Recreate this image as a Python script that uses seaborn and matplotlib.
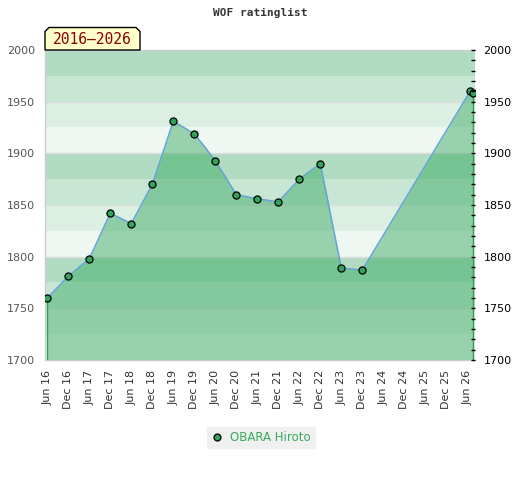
import matplotlib
matplotlib.use("Agg")
import matplotlib.pyplot as plt
from matplotlib.patches import Polygon
from matplotlib.lines import Line2D
from matplotlib.ticker import MultipleLocator
import seaborn as sns
import pandas as pd

# ---- data ----
tick_labels = ["Jun 16", "Dec 16", "Jun 17", "Dec 17", "Jun 18", "Dec 18", "Jun 19",
               "Dec 19", "Jun 20", "Dec 20", "Jun 21", "Dec 21", "Jun 22", "Dec 22",
               "Jun 23", "Dec 23", "Jun 24", "Dec 24", "Jun 25", "Dec 25", "Jun 26"]
tick_months = [0, 6, 12, 18, 24, 30, 36, 42, 48, 54, 60, 66, 72, 78, 84, 90,
               96, 102, 108, 114, 120]
months = [0, 6, 12, 18, 24, 30, 36, 42, 48, 54, 60, 66, 72, 78, 84, 90, 120.8, 121.7]
ratings = [1760, 1781, 1798, 1842, 1832, 1870, 1931, 1919, 1893, 1860, 1856, 1853,
           1875, 1890, 1789, 1787, 1960, 1958]
player = "OBARA Hiroto"
title = "WOF ratinglist"
period = "2016\u20132026"

df = pd.DataFrame({"month": months, "rating": ratings})

W, H = 520, 480
fig = plt.figure(figsize=(W / 100, H / 100), dpi=100)
L, R, T, B = 45, 475, 50, 360
ax = fig.add_axes([L / W, 1 - B / H, (R - L) / W, (B - T) / H])

ymin, ymax = 1700, 2000
band_cols = ["#b2dcc1", "#c8e6d4", "#dcefe3", "#eef7f1"]
i = 0
for top in range(ymax, ymin, -25):
    ax.axhspan(top - 25, top, color=band_cols[i % 4], lw=0, zorder=0)
    i += 1
for g in range(ymin, ymax + 1, 50):
    ax.axhline(g, color="#dddddd", lw=1, zorder=0.5)

ax.fill_between(df["month"], df["rating"], ymin, color="#31a75b", alpha=0.45,
                lw=0, zorder=1)
ax.vlines([df["month"].iloc[0], df["month"].iloc[-1]], ymin,
          [df["rating"].iloc[0], df["rating"].iloc[-1]], color="#2e9e50", lw=1.0, zorder=1.5)

sns.lineplot(data=df, x="month", y="rating", ax=ax, color="#62a4d8", lw=1.1,
             sort=False, zorder=2, legend=False)
sns.scatterplot(data=df, x="month", y="rating", ax=ax, color="#33a35c",
                edgecolor="black", linewidth=0.9, s=26, zorder=3, legend=False)

ax.set_xlim(-0.66, 122.2)
ax.set_ylim(ymin, ymax)
ax.set_xticks(tick_months)
ax.set_xticklabels(tick_labels, rotation=90, fontsize=8, color="#333333",
                   family="DejaVu Sans")
ax.yaxis.set_major_locator(MultipleLocator(50))
ax.tick_params(axis="y", length=0, pad=7, labelsize=8, labelcolor="#555555")
ax.tick_params(axis="x", length=0, pad=7)
ax.set_xlabel("")
ax.set_ylabel("")
for s in ["left", "bottom", "top"]:
    ax.spines[s].set_color("#cccccc")
    ax.spines[s].set_linewidth(1)
ax.spines["right"].set_visible(False)

ax2 = ax.twinx()
ax2.set_ylim(ymin, ymax)
ax2.yaxis.set_major_locator(MultipleLocator(50))
ax2.yaxis.set_minor_locator(MultipleLocator(10))
ax2.tick_params(axis="y", which="both", direction="in", length=3, width=1,
                color="black", labelsize=8, labelcolor="black", pad=6)
for s in ax2.spines.values():
    s.set_visible(False)

fig.text(0.5, 1 - 13 / H, title, ha="center", va="center",
         family="DejaVu Sans Mono", weight="bold", fontsize=8, color="#333333")

# period tab
x0, x1, y0, y1, c = 45, 140, 27.5, 50, 4
pts = [(x0, y1), (x0, y0 + c), (x0 + c, y0), (x1 - c, y0), (x1, y0 + c), (x1, y1)]
pts = [(px / W, 1 - py / H) for px, py in pts]
fig.patches.append(Polygon(pts, closed=True, transform=fig.transFigure,
                           facecolor="#ffffcc", edgecolor="black", lw=1, zorder=5))
fig.text((x0 + x1) / 2 / W, 1 - 40 / H, period, ha="center", va="center",
         family="DejaVu Sans Mono", fontsize=10.5, color="#8b0000", zorder=6)

handle = Line2D([], [], marker="o", linestyle="none", markerfacecolor="#33a35c",
                markeredgecolor="black", markeredgewidth=0.9, markersize=5.0)
leg = fig.legend([handle], [player], loc="center",
                 bbox_to_anchor=(261 / W, 1 - 437.5 / H), frameon=True,
                 fancybox=False, facecolor="#f0f0f0", edgecolor="#f0f0f0",
                 fontsize=8.5, labelcolor="#3aaa5c", handlelength=1.0,
                 handletextpad=0.6, borderpad=0.35, framealpha=1)

fig.savefig("out.png", dpi=100)
